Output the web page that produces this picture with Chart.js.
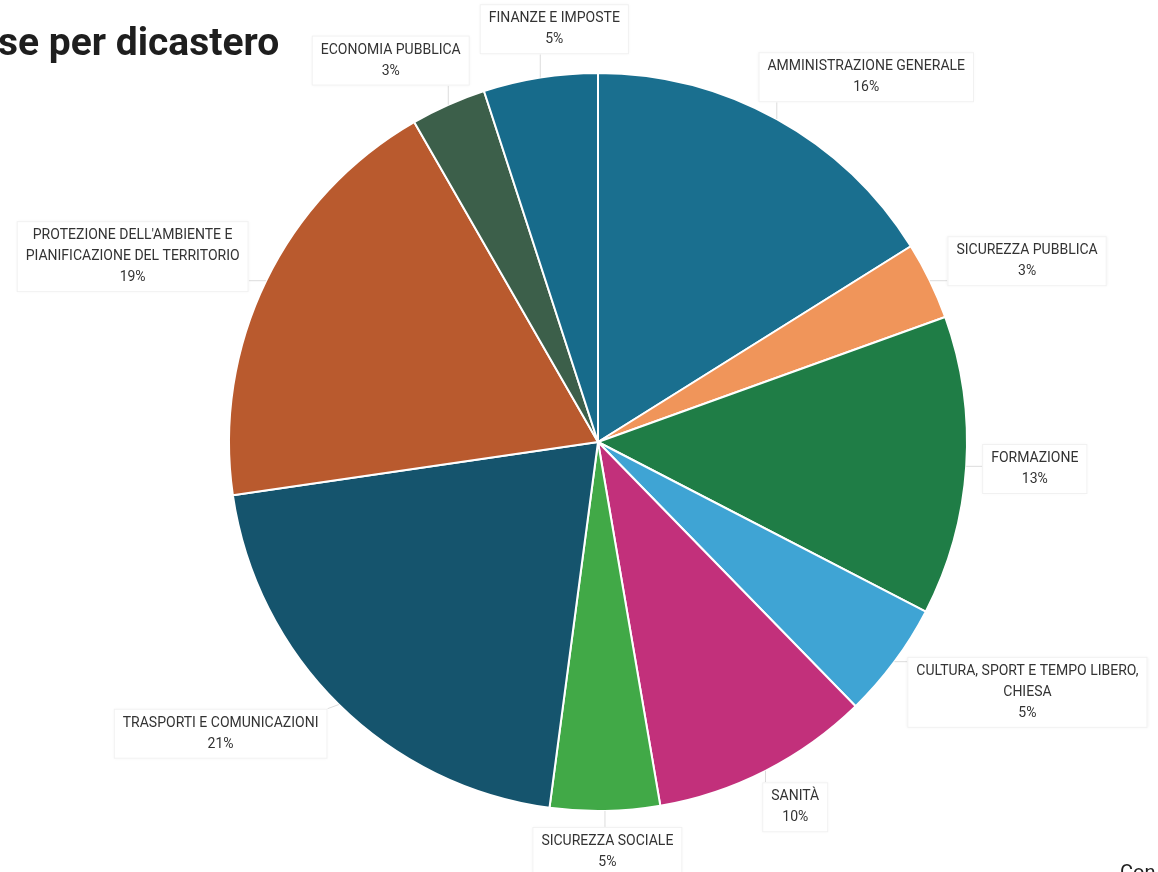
<!DOCTYPE html>
<html>
<head>
<meta charset="utf-8">
<title>Spese per dicastero</title>
<script src="https://cdn.jsdelivr.net/npm/chart.js@4.4.1/dist/chart.umd.min.js"></script>
<style>
  html, body { margin: 0; padding: 0; background: #fff; overflow: hidden; }
  #wrap { position: relative; width: 1158px; height: 872px; }
</style>
</head>
<body>
<div id="wrap"><canvas id="pieChart" width="1158" height="872"></canvas></div>
<script>
// Spese per dicastero (quota %)

const categories = [
  'AMMINISTRAZIONE GENERALE',
  'SICUREZZA PUBBLICA',
  'FORMAZIONE',
  ['CULTURA, SPORT E TEMPO LIBERO,', 'CHIESA'],
  'SANITÀ',
  'SICUREZZA SOCIALE',
  'TRASPORTI E COMUNICAZIONI',
  ["PROTEZIONE DELL'AMBIENTE E", 'PIANIFICAZIONE DEL TERRITORIO'],
  'ECONOMIA PUBBLICA',
  'FINANZE E IMPOSTE'
];
const shares = [16.1, 3.4, 13.1, 5.1, 9.6, 4.8, 20.6, 19.0, 3.3, 5.0];
const sliceColors = [
  '#1a6f8f', '#f0955a', '#1f7d46', '#3fa4d4', '#c2307b',
  '#41a947', '#15546d', '#b95a2e', '#3c5f4a', '#176b8b'
];
const titleText = 'se per dicastero';
const cornerText = 'Con';

// labels in white boxes outside the pie, with faint leader lines
const outsideLabels = {
  id: 'outsideLabels',
  afterDatasetsDraw(chart) {
    const ctx = chart.ctx;
    const meta = chart.getDatasetMeta(0);
    const total = shares.reduce((a, b) => a + b, 0);
    const lineH = 21;
    ctx.save();
    ctx.font = '14px Roboto, "Noto Sans", sans-serif';
    const boxes = [];
    meta.data.forEach((arc, i) => {
      const p = arc.getProps(['x', 'y', 'startAngle', 'endAngle', 'outerRadius'], true);
      const mid = (p.startAngle + p.endAngle) / 2;
      const cos = Math.cos(mid), sin = Math.sin(mid);
      const name = Array.isArray(categories[i]) ? categories[i] : [categories[i]];
      const lines = name.concat([Math.round(shares[i] / total * 100) + '%']);
      const w = Math.max(...lines.map(l => ctx.measureText(l).width)) + 18;
      const h = lines.length * lineH + 8;
      const gap = 16 + Math.max(0, -sin) * 8;
      const ax = p.x + cos * (p.outerRadius + gap);
      const ay = p.y + sin * (p.outerRadius + gap);
      const kx = Math.max(-1, Math.min(1, cos * 1.5));
      const box = {
        cx: ax + kx * w / 2, cy: ay + sin * h / 2, w, h, lines,
        ex: p.x + cos * p.outerRadius, ey: p.y + sin * p.outerRadius
      };
      // push sideways if it collides with a label already placed
      for (let pass = 0; pass < 3; pass++) {
        boxes.forEach(o => {
          const ox = (box.w + o.w) / 2 + 10 - Math.abs(box.cx - o.cx);
          const oy = (box.h + o.h) / 2 + 4 - Math.abs(box.cy - o.cy);
          if (ox > 0 && oy > 0) box.cx += (box.cx >= o.cx ? 1 : -1) * ox;
        });
      }
      boxes.push(box);
    });

    boxes.forEach(b => {
      const x0 = b.cx - b.w / 2, y0 = b.cy - b.h / 2;
      // leader line
      const tx = Math.max(x0, Math.min(x0 + b.w, b.ex));
      const ty = Math.max(y0, Math.min(y0 + b.h, b.ey));
      ctx.strokeStyle = '#dcdcdc';
      ctx.lineWidth = 1;
      ctx.beginPath();
      ctx.moveTo(b.ex, b.ey);
      ctx.lineTo(tx, ty);
      ctx.stroke();
      // box
      ctx.fillStyle = '#ffffff';
      ctx.shadowColor = 'rgba(0,0,0,0.06)';
      ctx.shadowBlur = 3;
      ctx.fillRect(x0, y0, b.w, b.h);
      ctx.shadowColor = 'transparent';
      ctx.strokeStyle = '#f1f1f1';
      ctx.strokeRect(x0 + 0.5, y0 + 0.5, b.w - 1, b.h - 1);
      // text
      ctx.fillStyle = '#333333';
      ctx.textAlign = 'center';
      ctx.textBaseline = 'middle';
      const top = b.cy - (b.lines.length - 1) * lineH / 2;
      b.lines.forEach((l, j) => ctx.fillText(l, b.cx, top + j * lineH));
    });
    ctx.restore();
  }
};

// cropped heading and footer text of the original page
const pageText = {
  id: 'pageText',
  afterDraw(chart) {
    const ctx = chart.ctx;
    ctx.save();
    ctx.fillStyle = '#1e1e1e';
    ctx.textAlign = 'left';
    ctx.textBaseline = 'alphabetic';
    ctx.font = 'bold 39px Roboto, "Noto Sans", sans-serif';
    ctx.fillText(titleText, -2, 55);
    ctx.font = '20px Roboto, "Noto Sans", sans-serif';
    ctx.fillText(cornerText, 1120, 879);
    ctx.restore();
  }
};

window.addEventListener('DOMContentLoaded', () => {
  const ctx = document.getElementById('pieChart').getContext('2d');
  new Chart(ctx, {
    type: 'pie',
    data: {
      labels: categories,
      datasets: [{
        data: shares,
        backgroundColor: sliceColors,
        borderColor: '#ffffff',
        borderWidth: 2
      }]
    },
    options: {
      responsive: false,
      animation: false,
      layout: { padding: { left: 200, right: 162, top: 72, bottom: 60 } },
      plugins: {
        legend: { display: false },
        tooltip: { enabled: false }
      }
    },
    plugins: [outsideLabels, pageText]
  });
});
</script>
</body>
</html>
